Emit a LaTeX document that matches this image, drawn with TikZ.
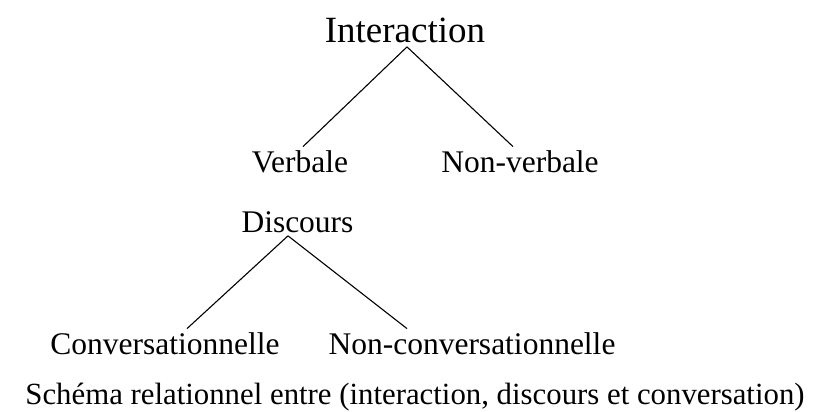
\documentclass[tikz,border=0pt]{standalone}
\usepackage{fontspec}
\setmainfont{Liberation Serif}
\begin{document}
\begin{tikzpicture}[x=1pt, y=-1pt]
    \tikzset{
        word/.style = {font=\fontsize{31.5}{38}\selectfont, anchor=base},
        title/.style = {word, font=\fontsize{37}{44}\selectfont},
        branch/.style = {line width=1.1pt}
    }
    \useasboundingbox (0, 0) rectangle (825, 412);

    % upper tree
    \node[title] (inter) at (405, 43) {Interaction};
    \node[word] (verb) at (300, 172) {Verbale};
    \node[word] (nonverb) at (520, 172) {Non-verbale};
    \draw[branch] ([xshift=2pt]inter.south) -- ([xshift=3pt]verb.north);
    \draw[branch] ([xshift=2pt]inter.south) -- ([xshift=-7pt]nonverb.north);

    % lower tree
    \node[word] (disc) at (297.5, 232) {Discours};
    \node[word] (conv) at (165, 354) {Conversationnelle};
    \node[word] (nonconv) at (472, 354) {Non-conversationnelle};
    \draw[branch] ([xshift=-9.5pt]disc.south) -- ([xshift=22pt]conv.north);
    \draw[branch] ([xshift=-9.5pt]disc.south) -- ([xshift=-65pt]nonconv.north);

    \node[word, font=\fontsize{30.8}{37}\selectfont] (caption) at (415, 404.5)
        {Schéma relationnel entre (interaction, discours et conversation)};
\end{tikzpicture}
\end{document}
